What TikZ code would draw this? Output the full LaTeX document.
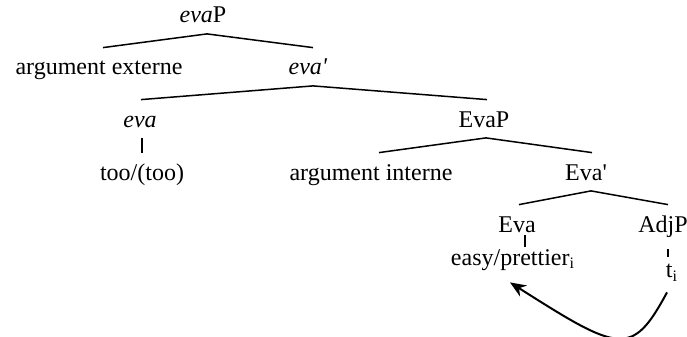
\documentclass[tikz,border=0pt]{standalone}
\usepackage{fontspec}
\setmainfont{Liberation Serif}
\usepackage{tikz}
\usetikzlibrary{arrows.meta}

\begin{document}
\begin{tikzpicture}[x=0.5pt, y=-0.5pt, >=Stealth,
    font=\fontsize{12}{14}\selectfont,
    lbl/.style={anchor=base, inner xsep=0pt, inner ysep=2pt, text height=11.5pt, text depth=3.25pt},
    branch/.style={line width=0.75pt},
    tick/.style={line width=0.75pt},
    move/.style={line width=1pt, ->, >={Stealth[length=8pt, width=6.5pt]}}]
  \useasboundingbox (0,0) rectangle (687,337);

  % Tree labels
  \node[lbl] (evaP)   at (203,23)  {\textit{eva}P};
  \node[lbl] (argext) at (99,75)   {argument externe};
  \node[lbl] (evabar) at (308,75)  {\textit{eva\textquotesingle}};
  \node[lbl] (eva)    at (140,127) {\textit{eva}};
  \node[lbl] (EvaP)   at (484,127) {EvaP};
  \node[lbl] (too)    at (142,180) {too/(too)};
  \node[lbl] (argint) at (371,180) {argument interne};
  \node[lbl] (Evabar) at (586,180) {Eva\textquotesingle};
  \node[lbl] (Eva)    at (517,232) {Eva};
  \node[lbl] (AdjP)   at (663,232) {AdjP};
  \node[lbl] (easy)   at (513,265) {easy/prettier\textsubscript{i}};
  \node[lbl] (ti)     at (672,278) {t\textsubscript{i}};

  % Branches
  \foreach \p/\c/\dp/\dc in {evaP/argext/2/2, evaP/evabar/2/2.5,
      evabar/eva/2.5/0.5, evabar/EvaP/2.5/1.5,
      EvaP/argint/1/4, EvaP/Evabar/1/3,
      Evabar/Eva/2.5/1, Evabar/AdjP/2.5/2.5} {
    \draw[branch] ([xshift=\dp pt]\p.south) -- ([xshift=\dc pt]\c.north);
  }

  % Heads to their words
  \draw[tick] ([xshift=1pt]eva.south) -- (too.north);
  \draw[tick] ([shift={(4pt,3.75pt)}]Eva.south) -- ([shift={(6pt,-4.5pt)}]easy.north);
  \draw[tick] ([shift={(2.5pt,-3.25pt)}]AdjP.south) -- ([shift={(-2pt,-3pt)}]ti.north);

  % Movement of the adjective
  \draw[move] ([shift={(-2.5pt,-1.75pt)}]ti.south) .. controls +(-35,65) and +(110,70) .. ([shift={(-1.5pt,-3.25pt)}]easy.south);
\end{tikzpicture}
\end{document}
